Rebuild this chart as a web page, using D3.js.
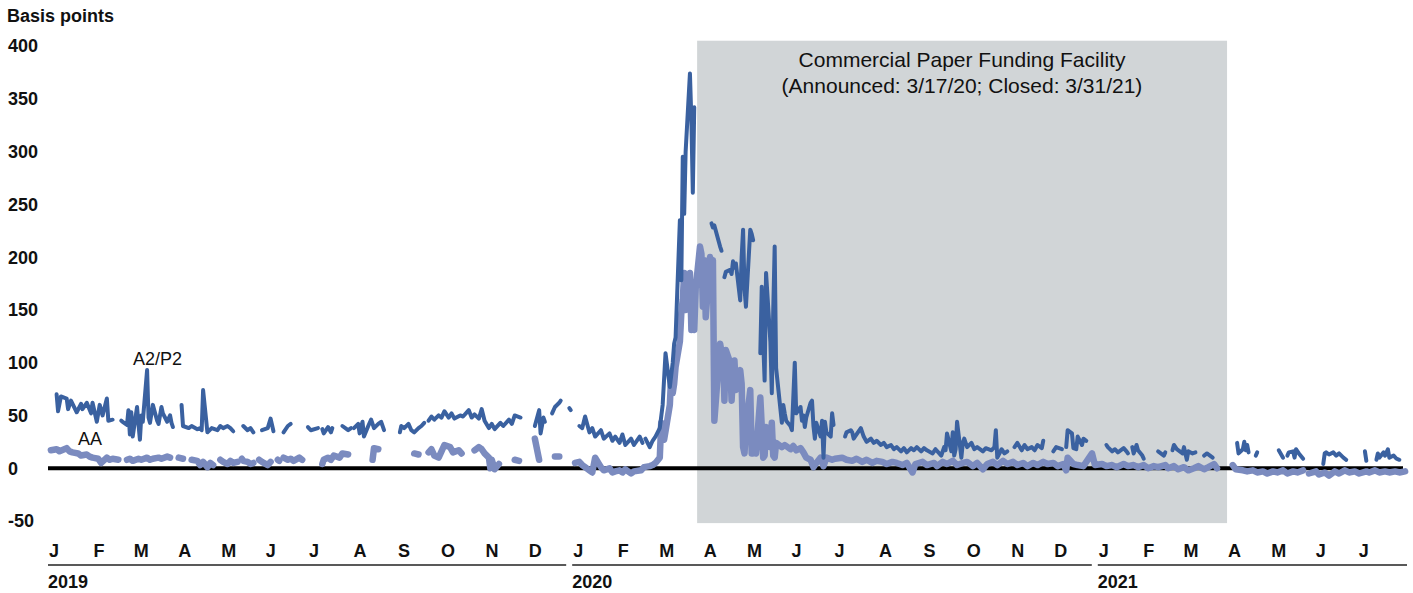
<!DOCTYPE html>
<html>
<head>
<meta charset="utf-8">
<title>CP spreads</title>
<script src="https://d3js.org/d3.v7.min.js"></script>
<style>
  body { margin: 0; background: #fff; font-family: "Liberation Sans", Arial, sans-serif; }
  .lab { font-weight: bold; font-size: 18px; fill: #111; }
</style>
</head>
<body>
<svg id="chart" width="1413" height="593"></svg>
<script>
// y ticks and month labels
var yTicks = [-50, 0, 50, 100, 150, 200, 250, 300, 350, 400];
var monthLetters = ["J","F","M","A","M","J","J","A","S","O","N","D"];
var years = ["2019", "2020", "2021"];
var facility = ["2020-03-28", "2021-04-01"];

// A2/P2 spread, one inner array per unbroken piece of line
var a2p2 = [
  [["2019-01-07",70],["2019-01-08",54],["2019-01-10",68],["2019-01-14",66],["2019-01-15",56],["2019-01-17",64],["2019-01-21",53],["2019-01-24",61],["2019-01-25",56],["2019-01-28",62],["2019-01-31",52],["2019-02-01",62],["2019-02-04",44],["2019-02-06",60],["2019-02-08",50],["2019-02-11",66],["2019-02-12",45],["2019-02-15",46]],
  [["2019-02-21",45],["2019-02-22",44],["2019-02-25",41],["2019-02-26",55],["2019-02-27",32],["2019-02-28",53],["2019-03-01",30],["2019-03-04",58],["2019-03-05",42],["2019-03-06",27],["2019-03-07",50],["2019-03-08",44],["2019-03-11",93],["2019-03-12",48],["2019-03-13",43],["2019-03-15",60],["2019-03-18",45],["2019-03-19",42],["2019-03-21",58],["2019-03-22",52],["2019-03-25",44],["2019-03-27",50],["2019-03-28",43],["2019-03-29",39]],
  [["2019-04-04",60],["2019-04-05",40],["2019-04-09",38],["2019-04-11",40],["2019-04-15",37],["2019-04-17",38],["2019-04-18",36],["2019-04-19",74],["2019-04-22",34],["2019-04-25",38],["2019-04-29",36],["2019-05-01",40],["2019-05-03",38],["2019-05-06",40],["2019-05-08",38],["2019-05-10",35]],
  [["2019-05-17",40],["2019-05-20",36],["2019-05-22",38],["2019-05-24",34]],
  [["2019-05-30",36],["2019-06-03",38],["2019-06-05",47],["2019-06-07",35]],
  [["2019-06-14",34],["2019-06-17",40],["2019-06-19",42]],
  [["2019-07-01",39],["2019-07-03",36],["2019-07-08",38]],
  [["2019-07-11",37],["2019-07-12",33],["2019-07-15",39],["2019-07-17",34],["2019-07-18",38]],
  [["2019-07-25",40],["2019-07-29",36],["2019-07-31",38]],
  [["2019-08-02",38],["2019-08-05",42],["2019-08-06",33],["2019-08-08",44],["2019-08-09",30],["2019-08-12",40],["2019-08-14",46],["2019-08-16",38],["2019-08-19",42],["2019-08-21",44],["2019-08-23",36]],
  [["2019-09-03",34],["2019-09-04",40],["2019-09-06",38],["2019-09-09",42],["2019-09-11",36],["2019-09-13",34],["2019-09-16",38],["2019-09-18",40],["2019-09-20",43]],
  [["2019-09-23",45],["2019-09-25",49],["2019-09-27",46],["2019-09-30",50],["2019-10-02",48],["2019-10-04",54],["2019-10-07",48],["2019-10-09",52],["2019-10-11",47],["2019-10-15",50],["2019-10-17",49],["2019-10-21",55],["2019-10-23",48],["2019-10-25",51],["2019-10-28",47],["2019-10-30",56],["2019-11-01",45],["2019-11-04",38],["2019-11-06",42],["2019-11-08",37],["2019-11-12",43],["2019-11-14",40],["2019-11-18",46],["2019-11-20",42],["2019-11-22",50],["2019-11-26",48]],
  [["2019-12-06",40],["2019-12-09",55],["2019-12-10",33],["2019-12-12",48],["2019-12-13",44]],
  [["2019-12-18",52],["2019-12-20",58],["2019-12-23",62],["2019-12-24",64]],
  [["2019-12-30",57],["2019-12-31",55]],
  [["2020-01-06",40],["2020-01-08",38],["2020-01-10",49],["2020-01-13",34],["2020-01-15",38],["2020-01-17",30],["2020-01-21",36],["2020-01-23",28],["2020-01-27",33],["2020-01-29",26],["2020-01-31",30],["2020-02-03",24],["2020-02-05",32],["2020-02-07",22],["2020-02-11",28],["2020-02-13",22],["2020-02-17",30],["2020-02-19",24]],
  [["2020-02-21",28],["2020-02-24",20],["2020-02-26",26],["2020-02-28",30],["2020-03-02",38],["2020-03-04",60],["2020-03-06",109],["2020-03-09",77],["2020-03-11",100],["2020-03-12",118],["2020-03-13",124],["2020-03-16",235],["2020-03-17",178],["2020-03-18",295],["2020-03-19",241],["2020-03-20",300],["2020-03-23",374],["2020-03-24",330],["2020-03-25",261],["2020-03-26",342]],
  [["2020-04-07",232],["2020-04-08",228],["2020-04-09",230],["2020-04-13",210],["2020-04-14",206]],
  [["2020-04-16",181],["2020-04-17",186],["2020-04-20",188],["2020-04-21",184],["2020-04-22",196],["2020-04-23",190],["2020-04-24",194],["2020-04-27",159],["2020-04-28",200],["2020-04-29",226],["2020-04-30",170],["2020-05-01",153],["2020-05-04",226],["2020-05-05",222],["2020-05-06",216]],
  [["2020-05-11",109],["2020-05-12",172],["2020-05-13",120],["2020-05-14",83],["2020-05-15",185],["2020-05-18",120],["2020-05-19",71],["2020-05-20",150],["2020-05-21",210],["2020-05-22",95],["2020-05-26",43],["2020-05-27",60],["2020-05-28",52],["2020-05-29",45],["2020-06-01",40],["2020-06-02",36],["2020-06-04",100],["2020-06-05",52],["2020-06-08",58],["2020-06-09",45],["2020-06-10",50],["2020-06-11",39],["2020-06-12",48],["2020-06-15",62],["2020-06-16",64],["2020-06-17",40],["2020-06-18",28],["2020-06-19",43],["2020-06-22",30],["2020-06-23",45],["2020-06-24",10],["2020-06-25",44],["2020-06-26",34],["2020-06-29",30],["2020-06-30",52],["2020-07-01",41]],
  [["2020-07-09",30],["2020-07-10",34],["2020-07-13",36],["2020-07-14",34],["2020-07-15",28],["2020-07-17",32],["2020-07-20",38],["2020-07-22",30],["2020-07-24",25],["2020-07-27",28],["2020-07-29",24],["2020-07-31",26],["2020-08-03",22],["2020-08-05",24],["2020-08-07",20],["2020-08-10",22],["2020-08-12",18],["2020-08-14",20],["2020-08-17",16],["2020-08-19",19],["2020-08-21",15],["2020-08-24",19],["2020-08-26",17],["2020-08-28",20],["2020-08-31",16],["2020-09-02",19],["2020-09-04",17],["2020-09-08",14],["2020-09-10",18],["2020-09-14",12],["2020-09-16",20],["2020-09-17",17],["2020-09-18",33],["2020-09-21",16],["2020-09-22",34],["2020-09-23",12],["2020-09-24",18],["2020-09-25",44],["2020-09-28",10],["2020-09-29",24],["2020-09-30",28],["2020-10-02",20],["2020-10-05",24],["2020-10-07",18],["2020-10-09",20],["2020-10-13",16],["2020-10-15",19],["2020-10-19",17],["2020-10-21",20],["2020-10-22",36],["2020-10-23",10],["2020-10-26",18],["2020-10-28",14],["2020-10-30",16]],
  [["2020-11-04",20],["2020-11-06",24],["2020-11-09",17],["2020-11-11",22],["2020-11-13",18],["2020-11-16",20],["2020-11-18",17],["2020-11-20",22],["2020-11-23",19],["2020-11-24",26]],
  [["2020-12-01",16],["2020-12-03",20],["2020-12-07",18]],
  [["2020-12-10",20],["2020-12-11",36],["2020-12-14",33],["2020-12-15",19],["2020-12-17",18],["2020-12-18",30],["2020-12-21",22],["2020-12-22",28],["2020-12-24",26]],
  [["2021-01-07",22],["2021-01-08",20],["2021-01-11",16],["2021-01-13",18],["2021-01-15",15],["2021-01-19",19],["2021-01-21",16],["2021-01-22",14]],
  [["2021-01-25",20],["2021-01-26",14],["2021-01-28",22],["2021-01-29",17],["2021-02-01",12],["2021-02-02",9]],
  [["2021-02-12",16],["2021-02-16",12],["2021-02-17",15]],
  [["2021-02-22",17],["2021-02-23",22],["2021-02-25",18],["2021-03-01",14],["2021-03-02",20],["2021-03-04",8],["2021-03-05",16],["2021-03-08",14],["2021-03-10",15]],
  [["2021-03-16",12],["2021-03-18",14],["2021-03-22",10]],
  [["2021-04-08",24],["2021-04-09",14],["2021-04-12",18],["2021-04-13",25],["2021-04-14",17],["2021-04-15",22],["2021-04-16",15]],
  [["2021-04-21",12],["2021-04-22",15]],
  [["2021-05-07",17],["2021-05-10",10]],
  [["2021-05-13",12],["2021-05-14",15],["2021-05-17",16],["2021-05-18",10],["2021-05-19",18],["2021-05-21",14],["2021-05-24",9]],
  [["2021-06-07",4],["2021-06-08",14],["2021-06-09",15],["2021-06-11",13],["2021-06-14",15],["2021-06-16",12],["2021-06-18",14],["2021-06-21",10],["2021-06-23",8]],
  [["2021-07-06",16],["2021-07-07",7]],
  [["2021-07-14",8],["2021-07-15",14],["2021-07-16",10],["2021-07-19",15],["2021-07-20",12],["2021-07-22",18],["2021-07-23",10],["2021-07-26",12],["2021-07-28",9],["2021-07-30",8]]
];

// AA spread
var aa = [
  [["2019-01-03",17],["2019-01-07",18],["2019-01-09",16],["2019-01-14",19],["2019-01-16",16],["2019-01-18",15],["2019-01-22",14],["2019-01-24",12],["2019-01-28",13],["2019-01-30",11],["2019-02-01",10],["2019-02-05",9],["2019-02-07",5],["2019-02-11",10],["2019-02-13",8],["2019-02-15",9],["2019-02-19",8]],
  [["2019-02-25",8],["2019-02-27",9],["2019-03-01",7],["2019-03-05",9],["2019-03-07",8],["2019-03-11",10],["2019-03-13",8],["2019-03-15",9],["2019-03-19",10],["2019-03-21",9],["2019-03-25",11],["2019-03-27",10]],
  [["2019-04-02",10],["2019-04-05",9]],
  [["2019-04-11",8],["2019-04-15",7],["2019-04-17",3],["2019-04-19",6],["2019-04-22",1],["2019-04-24",5],["2019-04-26",3]],
  [["2019-05-01",8],["2019-05-03",6],["2019-05-06",4],["2019-05-08",7],["2019-05-10",5],["2019-05-13",6]],
  [["2019-05-16",9],["2019-05-17",7],["2019-05-20",6],["2019-05-22",4],["2019-05-24",5]],
  [["2019-05-28",8],["2019-05-30",6],["2019-06-03",3],["2019-06-05",6]],
  [["2019-06-10",8],["2019-06-11",7]],
  [["2019-06-14",10],["2019-06-17",8],["2019-06-19",9],["2019-06-21",7],["2019-06-25",10],["2019-06-27",8]],
  [["2019-07-11",4],["2019-07-12",8],["2019-07-15",10],["2019-07-17",8],["2019-07-19",12],["2019-07-23",10],["2019-07-25",14],["2019-07-29",13]],
  [["2019-08-15",8],["2019-08-16",19],["2019-08-19",18]],
  [["2019-09-13",14],["2019-09-16",13]],
  [["2019-09-23",15],["2019-09-25",18],["2019-09-27",12],["2019-09-30",10],["2019-10-02",16],["2019-10-04",22],["2019-10-08",20],["2019-10-10",15],["2019-10-14",17],["2019-10-16",14]],
  [["2019-10-25",17],["2019-10-28",20],["2019-10-30",18],["2019-11-01",14],["2019-11-04",10],["2019-11-05",0],["2019-11-06",8],["2019-11-08",-1],["2019-11-11",4]],
  [["2019-11-22",8],["2019-11-25",7]],
  [["2019-12-06",28],["2019-12-09",8]],
  [["2019-12-20",11],["2019-12-23",11]],
  [["2020-01-03",5],["2020-01-06",6],["2020-01-08",3],["2020-01-10",1],["2020-01-13",-2],["2020-01-15",-4],["2020-01-16",3],["2020-01-17",10],["2020-01-21",1],["2020-01-23",-2],["2020-01-27",0],["2020-01-29",-4],["2020-01-31",-3],["2020-02-03",-2],["2020-02-05",-4],["2020-02-07",-1],["2020-02-11",-5],["2020-02-13",-3],["2020-02-18",-2],["2020-02-20",1],["2020-02-24",2],["2020-02-26",3],["2020-02-28",5],
   ["2020-03-02",10],["2020-03-03",43],["2020-03-04",30],["2020-03-05",27],["2020-03-06",35],["2020-03-09",60],["2020-03-10",90],["2020-03-11",71],["2020-03-12",80],["2020-03-13",96],["2020-03-16",120],["2020-03-17",147],["2020-03-18",160],["2020-03-19",185],["2020-03-20",150],["2020-03-23",185],["2020-03-24",131],["2020-03-25",150],["2020-03-26",131],["2020-03-27",170],["2020-03-30",210],["2020-03-31",203],["2020-04-01",153],["2020-04-02",197],["2020-04-03",143],["2020-04-06",200],["2020-04-07",190],["2020-04-08",197],["2020-04-09",45],["2020-04-13",118],["2020-04-14",110],["2020-04-15",112],["2020-04-16",64],["2020-04-17",112],["2020-04-20",100],["2020-04-21",64],["2020-04-22",90],["2020-04-23",102],["2020-04-24",74],["2020-04-27",93],["2020-04-28",80],["2020-04-29",20],["2020-04-30",14],["2020-05-01",40],["2020-05-04",74],["2020-05-05",14],["2020-05-06",14],["2020-05-07",16],["2020-05-08",14],["2020-05-11",67],["2020-05-12",40],["2020-05-13",10],["2020-05-14",12],["2020-05-15",39],["2020-05-18",20],["2020-05-19",43],["2020-05-20",12],["2020-05-21",10],["2020-05-22",24],["2020-05-26",20],["2020-05-28",22],["2020-06-01",18],["2020-06-03",21],["2020-06-05",17],["2020-06-08",19],["2020-06-10",15],["2020-06-12",10],["2020-06-15",8],["2020-06-17",1],["2020-06-19",5],
   ["2020-06-22",10],["2020-06-24",2],["2020-06-26",10],["2020-06-30",8],["2020-07-02",9],["2020-07-07",10],["2020-07-10",8],["2020-07-14",7],["2020-07-17",9],["2020-07-21",6],["2020-07-24",8],["2020-07-28",5],["2020-07-31",7],["2020-08-04",6],["2020-08-07",4],["2020-08-11",6],["2020-08-14",5],["2020-08-18",3],["2020-08-21",5],["2020-08-25",-4],["2020-08-27",4],["2020-09-01",6],["2020-09-04",3],["2020-09-09",5],["2020-09-11",2],["2020-09-15",6],["2020-09-18",4],["2020-09-22",7],["2020-09-25",3],["2020-09-29",5],["2020-10-02",6],["2020-10-06",2],["2020-10-09",5],["2020-10-13",-1],["2020-10-16",4],["2020-10-20",6],["2020-10-23",3],["2020-10-27",7],["2020-10-30",4],["2020-11-03",6],["2020-11-06",3],["2020-11-10",5],["2020-11-13",2],["2020-11-17",5],["2020-11-20",3],["2020-11-24",6],["2020-11-27",4],["2020-12-01",5],["2020-12-04",2],["2020-12-08",4],["2020-12-10",-2],["2020-12-11",10],["2020-12-15",4],["2020-12-18",3],["2020-12-22",2],["2020-12-28",14],["2020-12-30",3],["2021-01-04",4],["2021-01-07",2],["2021-01-11",3],["2021-01-14",1],["2021-01-19",4],["2021-01-22",2],["2021-01-26",3],["2021-01-29",1],["2021-02-02",3],["2021-02-05",0],["2021-02-09",2],["2021-02-12",1],["2021-02-17",3],["2021-02-19",0],["2021-02-23",2],["2021-02-26",-1],["2021-03-02",1],["2021-03-05",-2],["2021-03-09",0],["2021-03-12",2],["2021-03-16",-1],["2021-03-19",1],["2021-03-23",4],["2021-03-25",0]],
  [["2021-04-05",3],["2021-04-07",-1],["2021-04-12",-2],["2021-04-15",-3],["2021-04-19",-2],["2021-04-22",-4],["2021-04-26",-3],["2021-04-29",-5],["2021-05-03",-3],["2021-05-06",-4],["2021-05-10",-2],["2021-05-13",-5],["2021-05-17",-3],["2021-05-20",-4],["2021-05-24",-2]],
  [["2021-05-28",-5],["2021-06-02",-3],["2021-06-04",-6],["2021-06-08",-4],["2021-06-11",-7],["2021-06-15",-3],["2021-06-18",-5],["2021-06-22",-2],["2021-06-25",-4],["2021-06-29",-3],["2021-07-02",-5],["2021-07-07",-3],["2021-07-09",-4],["2021-07-13",-2],["2021-07-16",-4],["2021-07-20",-3],["2021-07-23",-4],["2021-07-27",-3],["2021-07-30",-4],["2021-08-03",-3]]
];

var parse = d3.timeParse("%Y-%m-%d");
var svg = d3.select("#chart");

var x = d3.scaleTime()
  .domain([parse("2019-01-01"), parse("2021-08-05")])
  .range([48, 1408]);
var y = d3.scaleLinear()
  .domain([-50, 400])
  .range([521, 46]);

// facility shading
svg.append("rect")
  .attr("x", x(parse(facility[0])))
  .attr("width", x(parse(facility[1])) - x(parse(facility[0])))
  .attr("y", y(405))
  .attr("height", y(-52) - y(405))
  .attr("fill", "#d1d5d7");

svg.append("text")
  .attr("x", 962).attr("y", 67)
  .attr("text-anchor", "middle")
  .style("font-size", "21px").style("fill", "#111")
  .text("Commercial Paper Funding Facility");
svg.append("text")
  .attr("x", 962).attr("y", 93)
  .attr("text-anchor", "middle")
  .style("font-size", "21px").style("fill", "#111")
  .text("(Announced: 3/17/20; Closed: 3/31/21)");

// y labels
svg.append("text").attr("class", "lab").attr("x", 7).attr("y", 22).text("Basis points");
svg.selectAll(".ytick").data(yTicks).enter().append("text")
  .attr("class", "lab ytick")
  .attr("x", 8)
  .attr("y", function(d) { return y(d); })
  .attr("dy", "0.36em")
  .text(function(d) { return d; });

// zero line
svg.append("line")
  .attr("x1", 48).attr("x2", 1403)
  .attr("y1", y(0)).attr("y2", y(0))
  .attr("stroke", "#000").attr("stroke-width", 4);

// month letters and years
var months = d3.timeMonth.range(parse("2019-01-01"), parse("2021-08-01"));
svg.selectAll(".mon").data(months).enter().append("text")
  .attr("class", "lab mon")
  .attr("x", function(d) { return x(d) + 1; })
  .attr("y", 557)
  .text(function(d) { return monthLetters[d.getMonth()]; });

years.forEach(function(yr, i) {
  var x0 = x(parse(yr + "-01-01"));
  var x1 = i < years.length - 1 ? x(parse((+yr + 1) + "-01-01")) - 6 : 1407;
  svg.append("line")
    .attr("x1", x0).attr("x2", x1)
    .attr("y1", 565).attr("y2", 565)
    .attr("stroke", "#222").attr("stroke-width", 1.6);
  svg.append("text").attr("class", "lab")
    .attr("x", x0).attr("y", 588)
    .text(yr);
});

var line = d3.line()
  .x(function(d) { return x(parse(d[0])); })
  .y(function(d) { return y(d[1]); });

function drawSeries(segs, color, width) {
  svg.append("g").selectAll("path").data(segs).enter().append("path")
    .attr("d", line)
    .attr("fill", "none")
    .attr("stroke", color)
    .attr("stroke-width", width)
    .attr("stroke-linejoin", "round")
    .attr("stroke-linecap", "round");
}
drawSeries(aa, "#7b8bbf", 6.5);
drawSeries(a2p2, "#3a61a0", 4);

// series names
svg.append("text").attr("x", 133).attr("y", 365).style("font-size", "18px").style("fill", "#111").text("A2/P2");
svg.append("text").attr("x", 78).attr("y", 445).style("font-size", "18px").style("fill", "#111").text("AA");
</script>
</body>
</html>
